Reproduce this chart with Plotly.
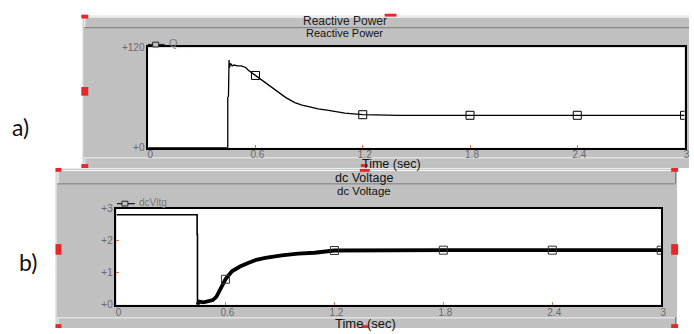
import numpy as np
import plotly.graph_objects as go

W, H = 694, 334

# ---------------- data ----------------
tick_times = [0, 0.6, 1.2, 1.8, 2.4, 3.0]
tick_text = ["0", "0.6", "1.2", "1.8", "2.4", "3"]

t_q = [0, 0.44, 0.445, 0.445, 0.449, 0.452, 0.455, 0.46, 0.47, 0.48, 0.5, 0.52, 0.545, 0.56,
       0.6, 0.65, 0.7, 0.73, 0.77, 0.82, 0.86, 0.91, 0.95, 1.0, 1.05, 1.1, 1.2, 1.3, 1.4, 1.6,
       1.8, 2.1, 2.4, 2.7, 3.0]
q_val = [0, 0, 0, 60, 62, 105, 96, 101, 98, 99, 98, 98, 96, 92.7,
         86.5, 78, 70, 66, 60, 54, 51, 48.5, 46.5, 45, 43, 41.5, 39.5, 39, 38.8, 38.8,
         38.8, 38.8, 38.8, 38.8, 38.8]

# pre-fault part of the dc voltage (thin trace)
t_v_pre = [0, 0.444, 0.444, 0.446, 0.446]
v_pre = [2.82, 2.82, 2.2, 2.2, 0.0]
# post-fault recovery (noisy, drawn thick)
t_v_post = [0.446, 0.455, 0.48, 0.5, 0.53, 0.55, 0.565, 0.59, 0.6, 0.636,
            0.68, 0.728, 0.77, 0.82, 0.86, 0.91, 1.0, 1.09, 1.2, 1.4, 1.8, 2.4, 3.0]
v_post = [0.0, 0.1, 0.08, 0.12, 0.15, 0.25, 0.4, 0.7, 0.8, 1.05,
          1.2, 1.32, 1.41, 1.47, 1.51, 1.55, 1.6, 1.63, 1.7, 1.71, 1.71, 1.71, 1.71]

q_ticks = [0, 120]
q_tick_text = ["+0", "+120"]
v_ticks = [0, 1, 2, 3]
v_tick_text = ["+0", "+1", "+2", "+3"]

marker_times = [0.6, 1.2, 1.8, 2.4, 3.0]
legend_names = ["Q", "dcVltg"]

# ---------------- helpers ----------------
def px(x):
    return x / W

def py(y):
    return 1 - y / H

GRAY = "#c0c0c0"
LIGHT = "#f0f0f0"
DARK = "#7a7a7a"
RED = "#e8262a"

def pick(ts, vs, times):
    ts = np.array(ts); vs = np.array(vs)
    out = []
    for tt in times:
        idx = np.where(np.isclose(ts, tt))[0]
        out.append(vs[idx[-1]] if len(idx) else np.interp(tt, ts, vs))
    return out

fig = go.Figure()

# Reactive power
fig.add_trace(go.Scatter(x=t_q, y=q_val, mode="lines", line=dict(color="black", width=1.3),
                         name=legend_names[0], showlegend=False, xaxis="x", yaxis="y"))
fig.add_trace(go.Scatter(x=marker_times, y=pick(t_q, q_val, marker_times), mode="markers",
                         marker=dict(symbol="square-open", size=8, color="black", line=dict(width=1)),
                         showlegend=False, xaxis="x", yaxis="y"))

# dc voltage
fig.add_trace(go.Scatter(x=t_v_pre, y=v_pre, mode="lines", line=dict(color="black", width=1.6),
                         name=legend_names[1], showlegend=False, xaxis="x2", yaxis="y2"))
fig.add_trace(go.Scatter(x=t_v_post, y=v_post, mode="lines", line=dict(color="black", width=3.8),
                         name=legend_names[1], showlegend=False, xaxis="x2", yaxis="y2"))
fig.add_trace(go.Scatter(x=marker_times, y=pick(t_v_post, v_post, marker_times), mode="markers",
                         marker=dict(symbol="square-open", size=8, color="#333", line=dict(width=1)),
                         showlegend=False, xaxis="x2", yaxis="y2"))

tickfont = dict(family="Liberation Sans, Arial", size=10, color="#6a6a6a")

axis_common = dict(showgrid=False, zeroline=False, showline=True, mirror=True,
                   linecolor="black", linewidth=1.5, tickfont=tickfont,
                   ticks="inside", ticklen=3, tickcolor="#e07a3a", tickwidth=1)

P1 = (148.5, 43, 689.5, 147)     # left, top, right, bottom in px
P2 = (116.5, 210.5, 666, 310)

fig.update_layout(
    width=W, height=H,
    margin=dict(l=0, r=0, t=0, b=0),
    paper_bgcolor="white", plot_bgcolor="white",
    showlegend=False,
    xaxis=dict(domain=[px(P1[0]), px(P1[2])], range=[0, 3], tickvals=tick_times, ticktext=tick_text,
               anchor="y", ticklabelstandoff=-3, ticklabelshift=2, **axis_common),
    yaxis=dict(domain=[py(P1[3]), py(P1[1])], range=[0, 120], tickvals=q_ticks, ticktext=q_tick_text,
               anchor="x", **axis_common),
    xaxis2=dict(domain=[px(P2[0]), px(P2[2])], range=[0, 3], tickvals=tick_times, ticktext=tick_text,
                anchor="y2", ticklabelstandoff=-3, ticklabelshift=2, **axis_common),
    yaxis2=dict(domain=[py(P2[3]), py(P2[1])], range=[0, 3], tickvals=v_ticks, ticktext=v_tick_text,
                anchor="x2", **axis_common),
)

shapes = []

def rect(x0, y0, x1, y1, fill, line=None, lw=0, layer="below"):
    shapes.append(dict(type="rect", xref="paper", yref="paper", x0=px(x0), x1=px(x1),
                       y0=py(y1), y1=py(y0), fillcolor=fill,
                       line=dict(width=lw, color=line or fill), layer=layer))

def hline(x0, x1, y, color, w=1, layer="below"):
    shapes.append(dict(type="line", xref="paper", yref="paper", x0=px(x0), x1=px(x1),
                       y0=py(y), y1=py(y), line=dict(color=color, width=w), layer=layer))

def vline(x, y0, y1, color, w=1):
    shapes.append(dict(type="line", xref="paper", yref="paper", x0=px(x), x1=px(x),
                       y0=py(y0), y1=py(y1), line=dict(color=color, width=w), layer="below"))

# top panel
rect(82, 10, 694, 168, GRAY)
hline(82, 694, 10.5, LIGHT)
vline(82.5, 10, 168, LIGHT)
hline(84, 694, 11.5, "white")
vline(84.5, 11, 22, "white")
hline(84, 694, 22.5, DARK)
hline(84, 694, 157.5, LIGHT)
vline(84.5, 157, 168, LIGHT)
rect(P1[0], P1[1], P1[2], P1[3], "white")

# bottom panel
rect(55, 168, 682, 334, GRAY)
hline(55, 682, 168.5, LIGHT)
vline(55.5, 168, 334, LIGHT)
hline(57, 680, 170.5, "white")
vline(57.5, 170, 184, "white")
hline(57, 680, 184.5, DARK)
vline(680.5, 170, 184, DARK)
hline(57, 680, 323.5, LIGHT)
vline(57.5, 323, 334, LIGHT)
vline(680.5, 323, 334, DARK)
rect(P2[0], P2[1], P2[2], P2[3], "white")

# legend keys (line with small open square)
hline(148, 165, 40, "#222", 1.3, layer="above")
rect(153, 37.5, 159, 42.5, GRAY, line="#222", lw=1, layer="above")
hline(117, 135, 205, "#222", 1.3, layer="above")
rect(122, 202.5, 128, 207.5, GRAY, line="#222", lw=1, layer="above")

# red selection handles
def handle(x0, y0, x1, y1):
    shapes.append(dict(type="rect", xref="paper", yref="paper", x0=px(x0), x1=px(x1),
                       y0=py(y1), y1=py(y0), fillcolor=RED, line=dict(width=0), layer="above"))

handle(81, 9, 88, 13)
handle(387, 8, 399, 11)
handle(81, 84, 88, 93)
handle(81, 164, 88, 168)
handle(55, 168, 61, 172)
handle(362, 169, 372, 172)
handle(55, 247, 61, 258)
handle(676, 247, 683, 258)
handle(676, 168, 683, 172)
handle(55, 330, 61, 334)
handle(676, 330, 683, 334)
handle(363, 164, 370, 167)
handle(364, 331, 371, 334)

fig.update_layout(shapes=shapes)

title_font = "Liberation Sans, Arial"
ann = [
    dict(x=px(347), y=py(15.5), text="Reactive Power", font=dict(family=title_font, size=12, color="#222")),
    dict(x=px(346), y=py(28), text="Reactive Power", font=dict(family=title_font, size=11, color="#111")),
    dict(x=px(394), y=py(163.5), text="Time (sec)", font=dict(family=title_font, size=12.5, color="#111")),
    dict(x=px(366), y=py(178), text="dc Voltage", font=dict(family=title_font, size=12.5, color="#111")),
    dict(x=px(366), y=py(191.5), text="dc Voltage", font=dict(family=title_font, size=11.5, color="#111")),
    dict(x=px(368), y=py(329), text="Time (sec)", font=dict(family=title_font, size=13, color="#111")),
    dict(x=px(20), y=py(125), text="a)", font=dict(family="Lato, Open Sans", size=23, color="#111")),
    dict(x=px(27), y=py(266), text="b)", font=dict(family="Lato, Open Sans", size=23, color="#111")),
    dict(x=px(167), y=py(38), text=legend_names[0], xanchor="left",
         font=dict(family=title_font, size=11, color="#7a7a7a")),
    dict(x=px(137), y=py(204), text=legend_names[1], xanchor="left",
         font=dict(family=title_font, size=10, color="#7a7a7a")),
]
for a in ann:
    a.setdefault("xanchor", "center")
    a.update(xref="paper", yref="paper", showarrow=False, yanchor="middle")
fig.update_layout(annotations=ann)

fig.write_html("out.html", config={"displayModeBar": False},
               post_script="document.body.style.margin='0';document.body.style.overflow='hidden';")
